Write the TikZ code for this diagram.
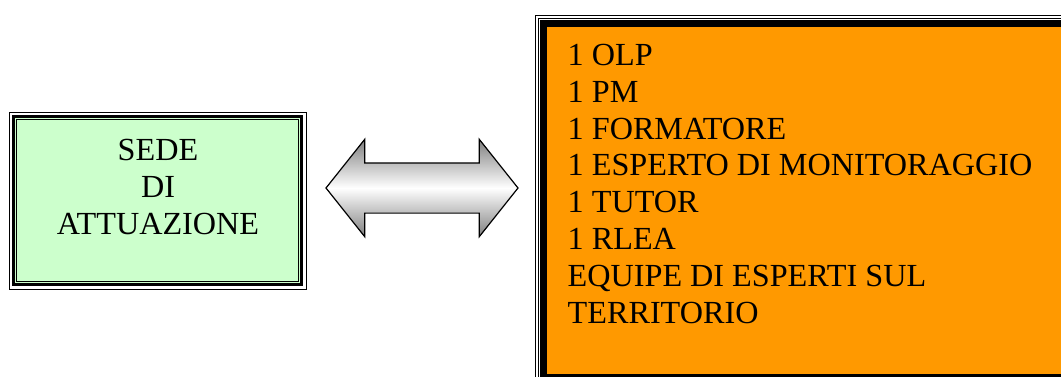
\documentclass[tikz,border=0pt]{standalone}
\usepackage{fontspec}
\setmainfont{Liberation Serif}
\usepackage{tikz}
\usetikzlibrary{shapes.arrows, positioning}
\definecolor{sedegreen}{HTML}{CCFFCC}
\definecolor{stafforange}{HTML}{FF9900}
\tikzstyle{sedebox} = [rectangle, minimum width=297pt, minimum height=177pt, draw=black, line width=0.9pt, fill=white]
\tikzstyle{staffbox} = [rectangle, minimum width=523pt, minimum height=347pt, fill=stafforange]
\tikzstyle{bigtext} = [font=\fontsize{32.2pt}{36.8pt}\selectfont, inner sep=0pt, text=black]
\tikzstyle{linkarrow} = [double arrow, draw=black, line width=1.2pt, minimum height=192pt, minimum width=96pt, double arrow head extend=23.5pt, double arrow tip angle=103, inner xsep=0pt, inner ysep=24.5pt, top color=black!50, bottom color=black!50, middle color=white]
\tikzstyle{thinline} = [draw=black, line width=0.9pt]

\begin{document}
\begin{tikzpicture}[x=1pt, y=1pt]

  \useasboundingbox (0,0) rectangle (1061,376);

  % left box
  \node (sede) [sedebox] at (157.5,175.5) {};
  \fill [sedegreen] ([shift={(6,-6)}]sede.north west) rectangle ([shift={(-6,6)}]sede.south east);
  \draw [line width=3pt] ([shift={(4.5,-4.5)}]sede.north west) rectangle ([shift={(-4.5,4.5)}]sede.south east);
  \draw [thinline] ([shift={(8,-8)}]sede.north west) rectangle ([shift={(-8,8)}]sede.south east);
  \node (sedetxt) [bigtext, anchor=north, align=center] at (158,236.7) {SEDE\\DI\\ATTUAZIONE};

  % right box
  \node (staff) [staffbox] at (808.5,175.5) {};
  \draw [line width=6.5pt] ([shift={(-3.25,3.25)}]staff.north west) rectangle ([shift={(3.25,-3.25)}]staff.south east);
  \draw [thinline] ([shift={(-8.5,8.5)}]staff.north west) rectangle ([shift={(8.5,-8.5)}]staff.south east);
  \draw [thinline] ([shift={(-11.5,11.5)}]staff.north west) rectangle ([shift={(11.5,-11.5)}]staff.south east);
  \node (stafftxt) [bigtext, anchor=north west, align=left] at (567.5,332) {1 OLP\\1 PM\\1 FORMATORE\\1 ESPERTO DI MONITORAGGIO\\1 TUTOR\\1 RLEA\\EQUIPE DI ESPERTI SUL\\TERRITORIO};

  % arrow between
  \node (link) [linkarrow] at (422,188) {};

\end{tikzpicture}
\end{document}
